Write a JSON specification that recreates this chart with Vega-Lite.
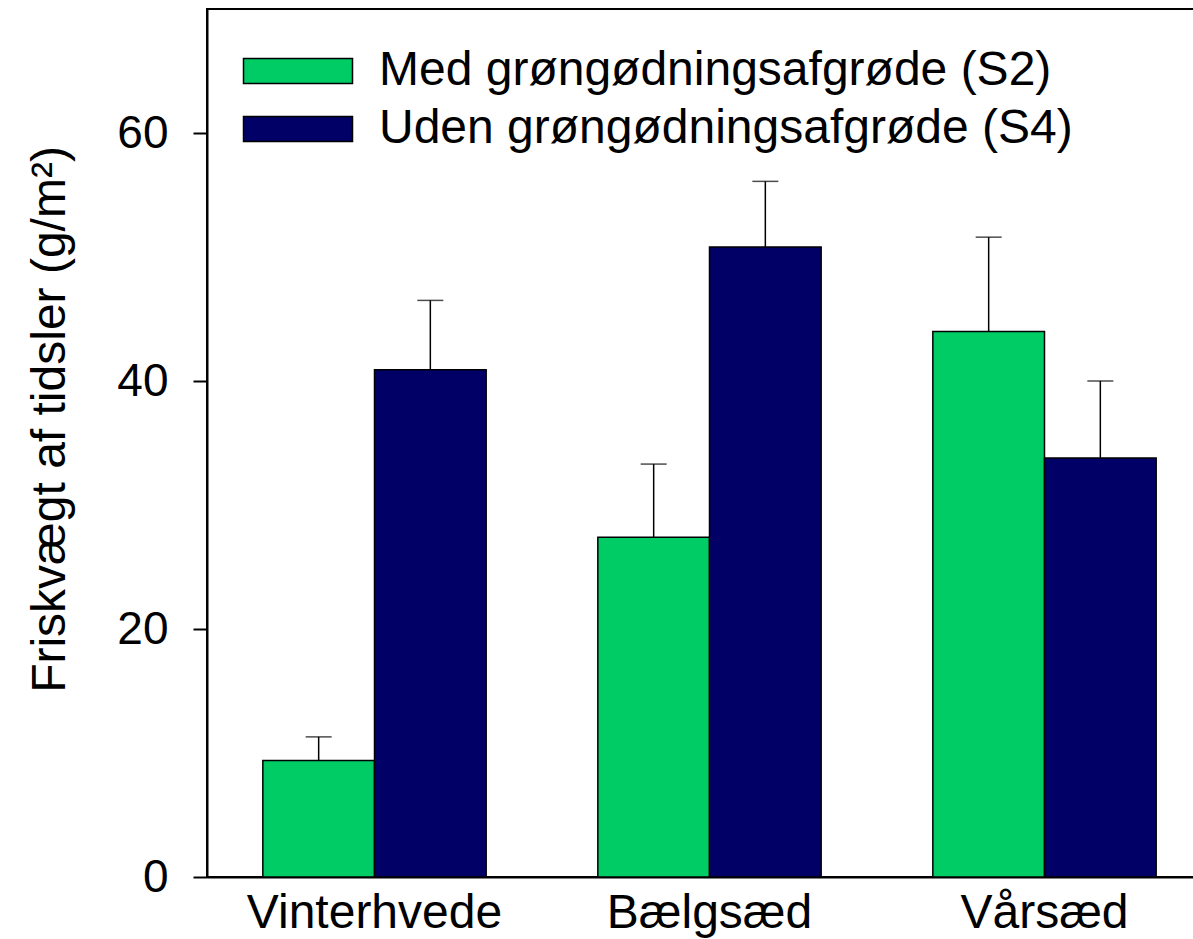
{
  "$schema": "https://vega.github.io/schema/vega-lite/v6.json",
  "width": 1005,
  "height": 868,
  "autosize": {"type": "none"},
  "padding": {"left": 207, "top": 9, "right": 0, "bottom": 62},
  "background": "white",
  "config": {
    "font": "Liberation Sans",
    "view": {"stroke": "black", "strokeWidth": 2},
    "axis": {"grid": false, "domainColor": "black", "domainWidth": 2, "tickColor": "black", "tickWidth": 2, "labelColor": "black", "titleColor": "black", "titleFontWeight": "normal"}
  },
  "data": {
    "values": [
      {"afgrode": "Vinterhvede", "behandling": "Med grøngødningsafgrøde (S2)", "vaerdi": 9.4, "oevre": 11.3},
      {"afgrode": "Vinterhvede", "behandling": "Uden grøngødningsafgrøde (S4)", "vaerdi": 40.9, "oevre": 46.5},
      {"afgrode": "Bælgsæd", "behandling": "Med grøngødningsafgrøde (S2)", "vaerdi": 27.4, "oevre": 33.3},
      {"afgrode": "Bælgsæd", "behandling": "Uden grøngødningsafgrøde (S4)", "vaerdi": 50.8, "oevre": 56.1},
      {"afgrode": "Vårsæd", "behandling": "Med grøngødningsafgrøde (S2)", "vaerdi": 44.0, "oevre": 51.6},
      {"afgrode": "Vårsæd", "behandling": "Uden grøngødningsafgrøde (S4)", "vaerdi": 33.8, "oevre": 40.0}
    ]
  },
  "encoding": {
    "x": {
      "field": "afgrode", "type": "nominal",
      "sort": ["Vinterhvede", "Bælgsæd", "Vårsæd"],
      "scale": {"paddingInner": 0, "paddingOuter": 0},
      "axis": {"title": null, "ticks": false, "labelAngle": 0, "labelFontSize": 48, "labelPadding": 12, "labelLimit": 1000}
    },
    "xOffset": {
      "field": "behandling", "type": "nominal",
      "sort": ["Med grøngødningsafgrøde (S2)", "Uden grøngødningsafgrøde (S4)"],
      "scale": {"paddingInner": 0, "paddingOuter": 0.5}
    }
  },
  "layer": [
    {
      "mark": {"type": "bar", "stroke": "black", "strokeWidth": 1.5},
      "encoding": {
        "y": {
          "field": "vaerdi", "type": "quantitative",
          "scale": {"domain": [0, 70], "nice": false},
          "axis": {"values": [0, 20, 40, 60], "tickSize": 14, "labelFontSize": 46, "labelPadding": 25, "title": "Friskvægt af tidsler (g/m²)", "titleFontSize": 48, "titlePadding": 42, "titleY": 410}
        },
        "color": {
          "field": "behandling", "type": "nominal",
          "scale": {"domain": ["Med grøngødningsafgrøde (S2)", "Uden grøngødningsafgrøde (S4)"], "range": ["#00CC66", "#000066"]},
          "legend": {
            "title": null, "orient": "none", "legendX": 67, "legendY": 38, "padding": 0,
            "symbolType": "M-4.36,-1L4.36,-1L4.36,1L-4.36,1Z", "symbolSize": 625,
            "symbolStrokeColor": "black", "symbolStrokeWidth": 1.5, "symbolOpacity": 1,
            "labelFontSize": 48, "labelColor": "black", "labelOffset": 57, "labelLimit": 1000, "rowPadding": 10
          }
        }
      }
    },
    {
      "mark": {"type": "rule", "strokeWidth": 1.5, "color": "black"},
      "encoding": {
        "y": {"field": "vaerdi", "type": "quantitative"},
        "y2": {"field": "oevre"}
      }
    },
    {
      "mark": {"type": "tick", "orient": "horizontal", "size": 26, "thickness": 1.5, "color": "black"},
      "encoding": {
        "y": {"field": "oevre", "type": "quantitative"}
      }
    }
  ]
}
